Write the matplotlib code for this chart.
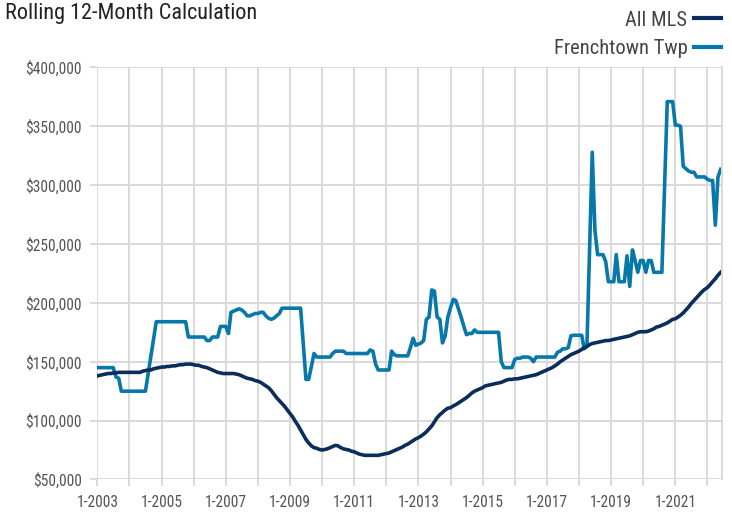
import pandas as pd
import matplotlib
matplotlib.use("Agg")
import matplotlib.pyplot as plt
from matplotlib.lines import Line2D
from matplotlib.ticker import FuncFormatter
from matplotlib import font_manager

# use a narrow face if one is around, else Roboto
names = {f.name for f in font_manager.fontManager.ttflist}
fams = [n for n in ['Roboto Condensed', 'Liberation Sans Narrow', 'Arial Narrow', 'Roboto'] if n in names]
plt.rcParams['font.family'] = fams + ['DejaVu Sans']

# monthly values, Jan 2003 .. Jun 2022, in $1000s
all_mls = [
    138, 138.5, 139, 139.5, 140, 140, 140.5, 140.5, 141, 141, 141, 141,          # 2003
    141, 141, 141, 141, 141, 142, 142.5, 143, 143, 144, 144.5, 145,               # 2004
    145.5, 145.5, 146, 146, 146.5, 146.5, 147, 147.5, 147.5, 148, 148, 148,       # 2005
    147.5, 147, 147, 146, 145.5, 145, 144, 143, 142, 141, 140.5, 140,             # 2006
    140, 140, 140, 140, 139.5, 139, 138, 137, 136, 135.5, 135, 134,               # 2007
    133.5, 132.5, 131, 129.5, 128, 125.5, 122.5, 119.5, 117, 114.5, 112, 109,     # 2008
    106, 103, 99.5, 96, 92, 88, 84, 81, 78.5, 77, 76.5, 75.5,                     # 2009
    75, 75.5, 76, 77, 78, 79, 78.5, 77, 76, 75.5, 75, 74,                         # 2010
    73.5, 72.5, 71.5, 71, 70.5, 70.5, 70.5, 70.5, 70.5, 70.5, 71, 71.5,           # 2011
    72, 72.5, 73.5, 74.5, 75.5, 76.5, 77.5, 79, 80, 81.5, 83, 84.5,               # 2012
    85.5, 87, 88.5, 90.5, 93, 95.5, 99, 102.5, 105, 107, 109, 110.5,              # 2013
    111, 112.5, 113.5, 115, 116.5, 118, 119.5, 121.5, 123.5, 125, 126, 127,       # 2014
    128, 129.5, 130, 130.5, 131, 131.5, 132, 132.5, 133.5, 134.5, 135, 135,       # 2015
    135.5, 135.5, 136, 136.5, 137, 137.5, 138, 138.5, 139, 140, 141, 142,         # 2016
    143, 144, 145, 146.5, 148, 150, 151.5, 153, 154.5, 156, 157, 158,             # 2017
    159, 160.5, 162, 163, 164.5, 165.5, 166, 166.5, 167, 167.5, 168, 168,         # 2018
    168.5, 169, 169.5, 170, 170.5, 171, 171.5, 172, 173, 174, 175, 175.5,         # 2019
    175.5, 175.5, 176, 177, 178, 179.5, 180, 181, 182, 183, 184.5, 186,           # 2020
    186.5, 188, 189.5, 191.5, 194, 196.5, 199.5, 202, 204.5, 207, 209.5, 211.5,   # 2021
    213, 215.5, 218, 220.5, 223.5, 226,                                           # 2022
]

frenchtown = [
    145, 145, 145, 145, 145, 145, 145, 137, 136, 125, 125, 125,                   # 2003
    125, 125, 125, 125, 125, 125, 125, 140, 155, 170, 184, 184,                   # 2004
    184, 184, 184, 184, 184, 184, 184, 184, 184, 184, 171, 171,                   # 2005
    171, 171, 171, 171, 171, 168, 168, 171, 171, 171, 180, 180,                   # 2006
    180, 174, 192, 193, 194, 195, 194, 192, 189, 189, 190, 191,                   # 2007
    191, 192, 192, 189, 187, 186, 187, 189, 191, 195.5, 195.5, 195.5,             # 2008
    195.5, 195.5, 195.5, 195.5, 195.5, 165, 135, 135, 146, 157, 154, 154,         # 2009
    154, 154, 154, 154, 157, 159, 159, 159, 159, 157, 157, 157,                   # 2010
    157, 157, 157, 157, 157, 157, 160, 159, 148, 143, 143, 143,                   # 2011
    143, 143, 159, 156, 155, 155, 155, 155, 155, 162, 170, 164,                   # 2012
    165, 166, 168, 186, 188, 211, 210, 188, 186, 166, 172, 188,                   # 2013
    196, 203, 202, 195, 188, 180, 173, 174, 174, 177, 175, 175,                   # 2014
    175, 175, 175, 175, 175, 175, 175, 150, 145, 145, 145, 145,                   # 2015
    152, 153, 153, 154, 154, 154, 153, 150, 154, 154, 154, 154,                   # 2016
    154, 154, 154, 154, 158, 159, 161, 161, 162, 172, 172.5, 172.5,               # 2017
    172.5, 172.5, 161, 163, 245, 328, 262, 241, 241, 241, 235, 218,               # 2018
    218, 218, 241, 218, 218, 218, 240, 214, 245, 236, 226, 236,                   # 2019
    236, 226, 236, 236, 226, 226, 226, 226, 300, 371, 371, 371,                   # 2020
    351, 351, 350, 316, 314, 312, 311, 311, 307, 307, 307, 307,                   # 2021
    305, 304, 304, 266, 307, 313.5,                                               # 2022
]

dates = pd.date_range('2003-01-01', periods=len(all_mls), freq='MS')
df = pd.DataFrame({'All MLS': all_mls, 'Frenchtown Twp': frenchtown}, index=dates) * 1000

navy = '#0b2d5c'
blue = '#0678aa'
grid_col = '#d9d9d9'
text_col = '#555555'

narrow = bool(fams) and fams[0] != 'Roboto'
tick_fs = 11.2 if narrow else 10
title_fs = 16 if narrow else 14
leg_fs = 14.8 if narrow else 13

fig = plt.figure(figsize=(7.32, 5.15), dpi=100)
ax = fig.add_axes([0.133, 0.069, 0.853, 0.800])

ax.plot(df.index, df['Frenchtown Twp'], color=blue, lw=2.6, solid_joinstyle='round')
ax.plot(df.index, df['All MLS'], color=navy, lw=2.6, solid_joinstyle='round')

ax.set_ylim(50000, 400000)
ax.set_xlim(df.index[0], df.index[-1] + pd.Timedelta(days=12))
ax.set_yticks(range(50000, 400001, 50000))
ax.yaxis.set_major_formatter(FuncFormatter(lambda v, p: f"${v:,.0f}"))

years = pd.date_range('2003-01-01', '2022-01-01', freq='YS')
ax.set_xticks(years)
ax.set_xticklabels([f"1-{d.year}" if d.year % 2 == 1 else "" for d in years])

ax.grid(True, color=grid_col, lw=1.4)
ax.set_axisbelow(True)
for s in ['top', 'left', 'bottom']:
    ax.spines[s].set_visible(False)
ax.spines['right'].set_color(grid_col)
ax.spines['right'].set_linewidth(1.4)
ax.tick_params(axis='both', colors=grid_col, width=1.4, length=5, labelcolor=text_col, labelsize=tick_fs)
ax.tick_params(axis='x', pad=6)
ax.tick_params(axis='y', pad=6)

fig.text(0.007, 0.994, 'Rolling 12-Month Calculation', fontsize=title_fs, color='#222222', va='top', ha='left')

handles = [Line2D([], [], color=navy, lw=3), Line2D([], [], color=blue, lw=3)]
fig.legend(handles, ['All MLS', 'Frenchtown Twp'], loc='upper right', bbox_to_anchor=(1.0, 1.0),
           frameon=False, markerfirst=False, fontsize=leg_fs, labelcolor='#444444',
           handlelength=1.35, handletextpad=0.3, labelspacing=0.45, borderaxespad=0.12)

fig.savefig('out.png', dpi=100)
